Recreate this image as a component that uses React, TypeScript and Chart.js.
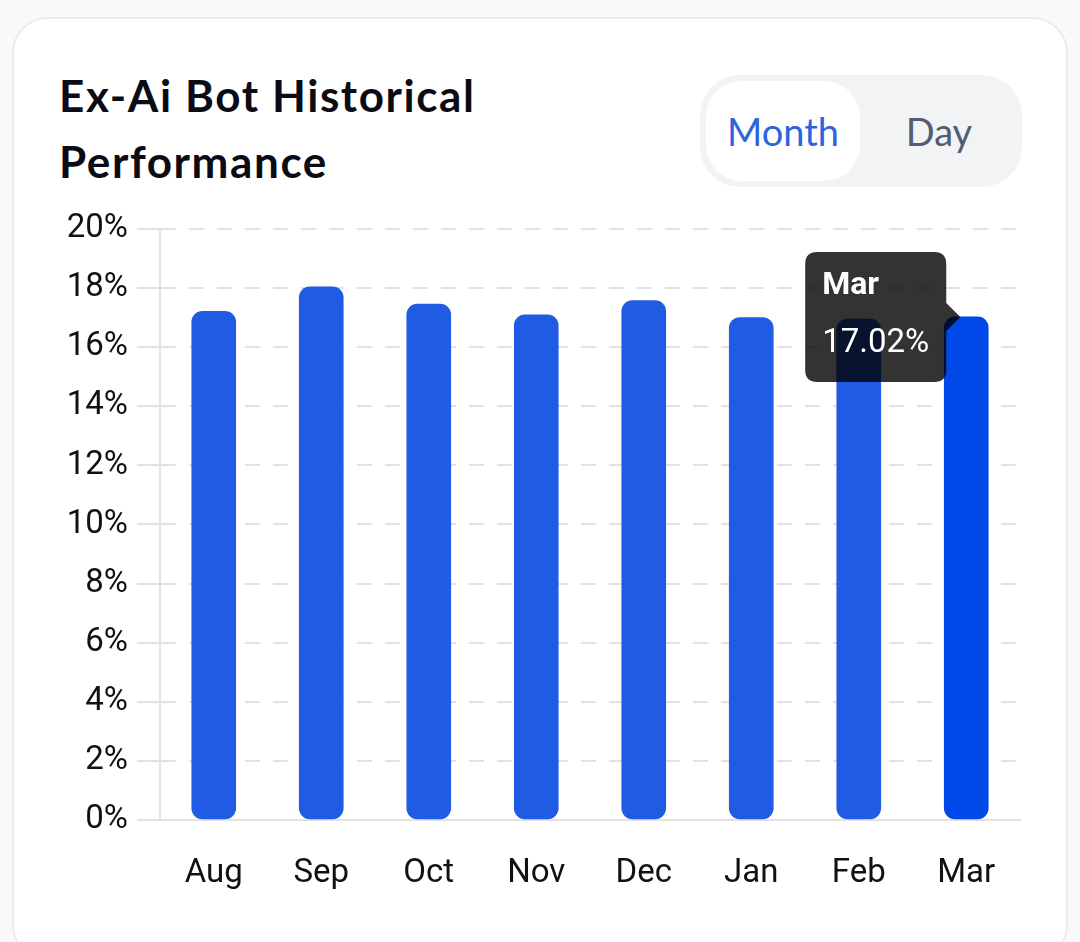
import React, { useEffect, useRef } from "react";
import { Chart, registerables } from "chart.js";

Chart.register(...registerables);

// Monthly returns of the bot, in percent
const months = ["Aug", "Sep", "Oct", "Nov", "Dec", "Jan", "Feb", "Mar"];
const returns = [17.21, 18.04, 17.45, 17.09, 17.57, 17.0, 16.95, 17.02];
const yTicks = [0, 2, 4, 6, 8, 10, 12, 14, 16, 18, 20];
const activeIndex = 7;

const BAR = "#1f5ce3";
const BAR_ACTIVE = "#0048e8";
const GRID = "#e2e2e2";

function PerformanceChart() {
  const ref = useRef<HTMLCanvasElement | null>(null);

  useEffect(() => {
    if (!ref.current) return;
    const chart = new Chart(ref.current, {
      type: "bar",
      data: {
        labels: months,
        datasets: [
          {
            data: returns,
            backgroundColor: BAR,
            hoverBackgroundColor: BAR_ACTIVE,
            borderRadius: 11,
            borderSkipped: false,
            barThickness: 44,
          },
        ],
      },
      options: {
        animation: false,
        responsive: false,
        maintainAspectRatio: false,
        layout: { padding: { top: 26, right: 20, left: 0, bottom: 0 } },
        plugins: {
          legend: { display: false },
          tooltip: {
            enabled: true,
            backgroundColor: "rgba(0,0,0,0.8)",
            titleFont: { family: "Roboto", size: 32, weight: "bold" },
            bodyFont: { family: "Roboto", size: 33 },
            titleColor: "#ffffff",
            bodyColor: "#ffffff",
            padding: { top: 15, bottom: 18, left: 17, right: 17 },
            titleMarginBottom: 19,
            cornerRadius: 12,
            caretSize: 14,
            caretPadding: 6,
            displayColors: false,
            xAlign: "right",
            yAlign: "center",
            callbacks: {
              label: (ctx: any) => `${Number(ctx.parsed.y).toFixed(2)}%`,
            },
          },
        },
        scales: {
          x: {
            grid: { display: false },
            border: { display: true, color: GRID, width: 2 },
            ticks: {
              color: "#111111",
              font: { family: "Roboto", size: 33 },
              padding: 26,
              maxRotation: 0,
            },
            afterFit: (scale: any) => {
              scale.height = 100;
            },
          },
          y: {
            min: 0,
            max: 20,
            afterBuildTicks: (scale: any) => {
              scale.ticks = yTicks.map((v) => ({ value: v }));
            },
            grid: {
              color: GRID,
              lineWidth: 2,
              tickLength: 23,
              tickColor: GRID,
              tickBorderDash: [],
            },
            border: { display: true, color: GRID, width: 2, dash: [15, 13] },
            ticks: {
              color: "#111111",
              font: { family: "Roboto", size: 33 },
              padding: 9,
              callback: (v: any) => `${v}%`,
            },
            afterFit: (scale: any) => {
              scale.width = 120;
            },
          },
        },
      },
    });

    const active = [{ datasetIndex: 0, index: activeIndex }];
    chart.setActiveElements(active);
    chart.tooltip?.setActiveElements(active, { x: 0, y: 0 });
    chart.update();

    return () => chart.destroy();
  }, []);

  return (
    <canvas
      ref={ref}
      width={1000}
      height={720}
      style={{ position: "absolute", left: 40, top: 200, width: 1000, height: 720 }}
    />
  );
}

export default function App() {
  return (
    <div
      style={{
        position: "fixed",
        left: 0,
        top: 0,
        width: 1080,
        height: 942,
        background: "#f9f9f9",
        overflow: "hidden",
      }}
    >
      <div
        style={{
          position: "absolute",
          left: 12,
          top: 17,
          width: 1052,
          height: 940,
          background: "#ffffff",
          border: "2px solid #ececec",
          borderRadius: 36,
        }}
      />
      <div
        style={{
          position: "absolute",
          left: 59,
          top: 62,
          width: 560,
          fontFamily: "Lato, sans-serif",
          fontWeight: 700,
          fontSize: 44,
          letterSpacing: 1.6,
          lineHeight: "66px",
          color: "#0b0b14",
        }}
      >
        Ex-Ai Bot Historical
        <br />
        Performance
      </div>
      <div
        style={{
          position: "absolute",
          left: 700,
          top: 75,
          width: 322,
          height: 112,
          borderRadius: 40,
          background: "#f2f3f5",
        }}
      >
        <div
          style={{
            position: "absolute",
            left: 6,
            top: 6,
            width: 154,
            height: 100,
            borderRadius: 36,
            background: "#ffffff",
          }}
        />
        <div
          style={{
            position: "absolute",
            left: 6,
            top: 6,
            width: 154,
            height: 100,
            display: "flex",
            alignItems: "center",
            justifyContent: "center",
            fontFamily: "Lato, sans-serif",
            fontSize: 38,
            color: "#2f63dc",
          }}
        >
          Month
        </div>
        <div
          style={{
            position: "absolute",
            left: 164,
            top: 6,
            width: 150,
            height: 100,
            display: "flex",
            alignItems: "center",
            justifyContent: "center",
            fontFamily: "Lato, sans-serif",
            fontSize: 38,
            color: "#535d72",
          }}
        >
          Day
        </div>
      </div>
      <PerformanceChart />
    </div>
  );
}
